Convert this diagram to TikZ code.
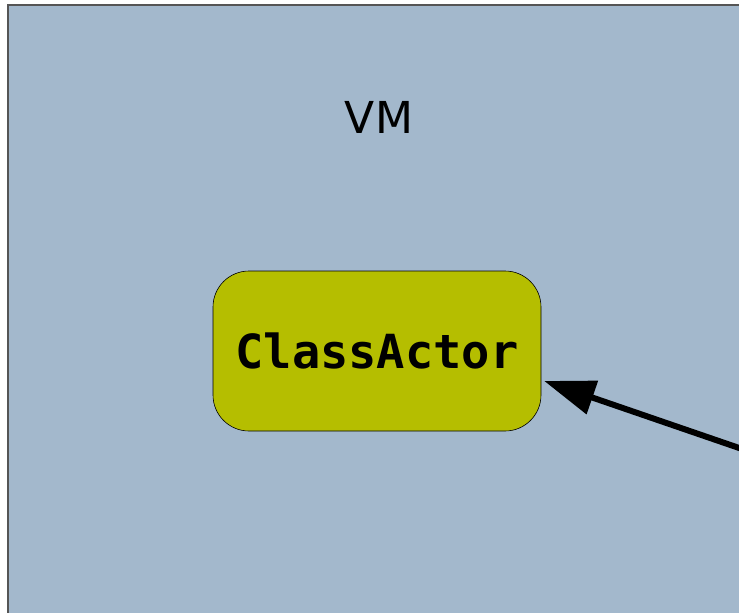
\documentclass[tikz,border=0pt]{standalone}
\usepackage{fontspec}
\setmainfont{DejaVu Sans}
\setmonofont{DejaVu Sans Mono}
\usepackage{tikz}
\usetikzlibrary{arrows.meta,positioning}
\definecolor{vmblue}{RGB}{163,184,204}
\definecolor{vmedge}{RGB}{85,85,85}
\definecolor{actorolive}{RGB}{181,190,0}
\tikzset{
  region/.style={draw=vmedge,line width=1.3pt,fill=vmblue},
  actor/.style={draw=black,line width=0.6pt,fill=actorolive,
    rounded corners=36pt,minimum width=328pt,minimum height=160pt,
    align=center,font=\fontsize{47}{50}\selectfont\ttfamily\bfseries},
  regionlab/.style={font=\fontsize{44}{48}\selectfont},
  refflow/.style={-{Triangle[length=51pt,width=34pt]},line width=6pt,draw=black,
    shorten >=3pt}
}

\begin{document}
\begin{tikzpicture}[x=1pt,y=-1pt]
  \useasboundingbox (0,0) rectangle (739,613);
  \path[region] (8,5) rectangle (760,640);
  \node[regionlab] (vmlabel) at (379,117) {VM};
  \node[actor] (classactor) at (377,351) {ClassActor};
  \coordinate (offright) at (745,450);
  \draw[refflow] (offright) -- (classactor.east |- 0,380);
\end{tikzpicture}
\end{document}
